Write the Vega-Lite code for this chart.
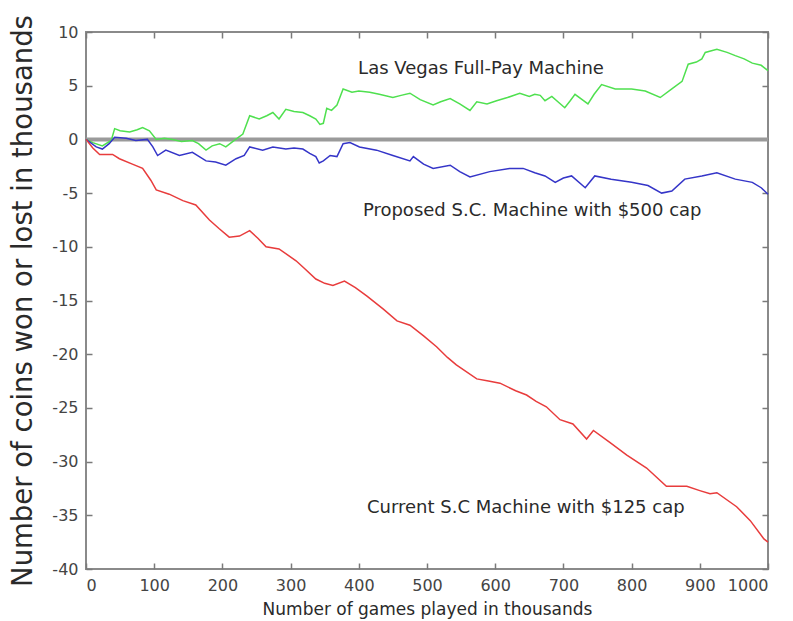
{
  "$schema": "https://vega.github.io/schema/vega-lite/v6.json",
  "width": 682,
  "height": 537,
  "autosize": {"type": "none"},
  "padding": {"left": 86, "top": 32, "right": 25, "bottom": 52},
  "background": "white",
  "config": {
    "view": {"stroke": "#8a8a8a", "strokeWidth": 2},
    "axis": {
      "grid": false,
      "domain": false,
      "tickColor": "#7a7a7a",
      "tickWidth": 1.5,
      "tickSize": 6,
      "offset": -6,
      "labelFont": "DejaVu Sans",
      "labelFontSize": 16,
      "labelColor": "#444444",
      "titleFont": "DejaVu Sans",
      "titleColor": "#2a2a2a",
      "titleFontWeight": "normal",
      "labelExpr": "'' + datum.value"
    }
  },
  "datasets": {
    "lines": [
      {"series": "Las Vegas", "x": 0, "y": 0},
      {"series": "Las Vegas", "x": 10, "y": -0.3},
      {"series": "Las Vegas", "x": 24, "y": -0.6},
      {"series": "Las Vegas", "x": 37, "y": -0.1},
      {"series": "Las Vegas", "x": 42, "y": 1.0},
      {"series": "Las Vegas", "x": 50, "y": 0.8},
      {"series": "Las Vegas", "x": 64, "y": 0.7},
      {"series": "Las Vegas", "x": 75, "y": 0.9},
      {"series": "Las Vegas", "x": 83, "y": 1.1},
      {"series": "Las Vegas", "x": 93, "y": 0.8},
      {"series": "Las Vegas", "x": 103, "y": 0.0},
      {"series": "Las Vegas", "x": 115, "y": 0.1},
      {"series": "Las Vegas", "x": 127, "y": 0.0},
      {"series": "Las Vegas", "x": 140, "y": -0.2},
      {"series": "Las Vegas", "x": 156, "y": -0.1},
      {"series": "Las Vegas", "x": 165, "y": -0.4},
      {"series": "Las Vegas", "x": 176, "y": -1.0},
      {"series": "Las Vegas", "x": 185, "y": -0.6},
      {"series": "Las Vegas", "x": 196, "y": -0.4},
      {"series": "Las Vegas", "x": 205, "y": -0.7},
      {"series": "Las Vegas", "x": 215, "y": -0.2},
      {"series": "Las Vegas", "x": 230, "y": 0.5},
      {"series": "Las Vegas", "x": 240, "y": 2.2},
      {"series": "Las Vegas", "x": 254, "y": 1.9},
      {"series": "Las Vegas", "x": 265, "y": 2.2},
      {"series": "Las Vegas", "x": 274, "y": 2.5},
      {"series": "Las Vegas", "x": 283, "y": 1.9},
      {"series": "Las Vegas", "x": 293, "y": 2.8},
      {"series": "Las Vegas", "x": 305, "y": 2.6},
      {"series": "Las Vegas", "x": 318, "y": 2.5},
      {"series": "Las Vegas", "x": 328, "y": 2.2},
      {"series": "Las Vegas", "x": 337, "y": 1.9},
      {"series": "Las Vegas", "x": 343, "y": 1.4},
      {"series": "Las Vegas", "x": 348, "y": 1.5},
      {"series": "Las Vegas", "x": 353, "y": 2.9},
      {"series": "Las Vegas", "x": 360, "y": 2.7},
      {"series": "Las Vegas", "x": 368, "y": 3.2},
      {"series": "Las Vegas", "x": 377, "y": 4.7},
      {"series": "Las Vegas", "x": 390, "y": 4.4},
      {"series": "Las Vegas", "x": 400, "y": 4.5},
      {"series": "Las Vegas", "x": 416, "y": 4.4},
      {"series": "Las Vegas", "x": 430, "y": 4.2},
      {"series": "Las Vegas", "x": 450, "y": 3.9},
      {"series": "Las Vegas", "x": 462, "y": 4.1},
      {"series": "Las Vegas", "x": 475, "y": 4.3},
      {"series": "Las Vegas", "x": 490, "y": 3.7},
      {"series": "Las Vegas", "x": 509, "y": 3.2},
      {"series": "Las Vegas", "x": 520, "y": 3.5},
      {"series": "Las Vegas", "x": 534, "y": 3.8},
      {"series": "Las Vegas", "x": 548, "y": 3.3},
      {"series": "Las Vegas", "x": 563, "y": 2.7},
      {"series": "Las Vegas", "x": 573, "y": 3.5},
      {"series": "Las Vegas", "x": 588, "y": 3.3},
      {"series": "Las Vegas", "x": 602, "y": 3.6},
      {"series": "Las Vegas", "x": 618, "y": 3.9},
      {"series": "Las Vegas", "x": 636, "y": 4.3},
      {"series": "Las Vegas", "x": 650, "y": 4.0},
      {"series": "Las Vegas", "x": 658, "y": 4.2},
      {"series": "Las Vegas", "x": 666, "y": 4.1},
      {"series": "Las Vegas", "x": 673, "y": 3.6},
      {"series": "Las Vegas", "x": 683, "y": 4.0},
      {"series": "Las Vegas", "x": 702, "y": 2.95},
      {"series": "Las Vegas", "x": 710, "y": 3.6},
      {"series": "Las Vegas", "x": 717, "y": 4.2},
      {"series": "Las Vegas", "x": 736, "y": 3.3},
      {"series": "Las Vegas", "x": 745, "y": 4.2},
      {"series": "Las Vegas", "x": 756, "y": 5.1},
      {"series": "Las Vegas", "x": 776, "y": 4.7},
      {"series": "Las Vegas", "x": 800, "y": 4.7},
      {"series": "Las Vegas", "x": 820, "y": 4.5},
      {"series": "Las Vegas", "x": 842, "y": 3.9},
      {"series": "Las Vegas", "x": 859, "y": 4.7},
      {"series": "Las Vegas", "x": 874, "y": 5.4},
      {"series": "Las Vegas", "x": 883, "y": 7.0},
      {"series": "Las Vegas", "x": 895, "y": 7.2},
      {"series": "Las Vegas", "x": 903, "y": 7.5},
      {"series": "Las Vegas", "x": 908, "y": 8.1},
      {"series": "Las Vegas", "x": 925, "y": 8.4},
      {"series": "Las Vegas", "x": 940, "y": 8.1},
      {"series": "Las Vegas", "x": 952, "y": 7.8},
      {"series": "Las Vegas", "x": 965, "y": 7.5},
      {"series": "Las Vegas", "x": 977, "y": 7.1},
      {"series": "Las Vegas", "x": 990, "y": 6.9},
      {"series": "Las Vegas", "x": 1000, "y": 6.4},
      {"series": "Proposed", "x": 0, "y": 0},
      {"series": "Proposed", "x": 15, "y": -0.7},
      {"series": "Proposed", "x": 24, "y": -0.9},
      {"series": "Proposed", "x": 34, "y": -0.4},
      {"series": "Proposed", "x": 42, "y": 0.2},
      {"series": "Proposed", "x": 59, "y": 0.1},
      {"series": "Proposed", "x": 73, "y": -0.1},
      {"series": "Proposed", "x": 90, "y": 0.0},
      {"series": "Proposed", "x": 98, "y": -0.7},
      {"series": "Proposed", "x": 105, "y": -1.5},
      {"series": "Proposed", "x": 117, "y": -1.0},
      {"series": "Proposed", "x": 137, "y": -1.5},
      {"series": "Proposed", "x": 156, "y": -1.2},
      {"series": "Proposed", "x": 176, "y": -2.0},
      {"series": "Proposed", "x": 190, "y": -2.1},
      {"series": "Proposed", "x": 205, "y": -2.4},
      {"series": "Proposed", "x": 220, "y": -1.8},
      {"series": "Proposed", "x": 232, "y": -1.5},
      {"series": "Proposed", "x": 240, "y": -0.7},
      {"series": "Proposed", "x": 259, "y": -1.0},
      {"series": "Proposed", "x": 274, "y": -0.7},
      {"series": "Proposed", "x": 293, "y": -0.9},
      {"series": "Proposed", "x": 305, "y": -0.8},
      {"series": "Proposed", "x": 318, "y": -0.9},
      {"series": "Proposed", "x": 328, "y": -1.3},
      {"series": "Proposed", "x": 337, "y": -1.6},
      {"series": "Proposed", "x": 342, "y": -2.2},
      {"series": "Proposed", "x": 348, "y": -2.0},
      {"series": "Proposed", "x": 358, "y": -1.5},
      {"series": "Proposed", "x": 368, "y": -1.6},
      {"series": "Proposed", "x": 377, "y": -0.4},
      {"series": "Proposed", "x": 387, "y": -0.3},
      {"series": "Proposed", "x": 401, "y": -0.7},
      {"series": "Proposed", "x": 426, "y": -1.0},
      {"series": "Proposed", "x": 450, "y": -1.5},
      {"series": "Proposed", "x": 475, "y": -2.0},
      {"series": "Proposed", "x": 480, "y": -1.6},
      {"series": "Proposed", "x": 495, "y": -2.3},
      {"series": "Proposed", "x": 509, "y": -2.7},
      {"series": "Proposed", "x": 534, "y": -2.4},
      {"series": "Proposed", "x": 548, "y": -3.0},
      {"series": "Proposed", "x": 563, "y": -3.5},
      {"series": "Proposed", "x": 592, "y": -3.0},
      {"series": "Proposed", "x": 621, "y": -2.7},
      {"series": "Proposed", "x": 641, "y": -2.7},
      {"series": "Proposed", "x": 658, "y": -3.1},
      {"series": "Proposed", "x": 673, "y": -3.4},
      {"series": "Proposed", "x": 688, "y": -4.0},
      {"series": "Proposed", "x": 700, "y": -3.6},
      {"series": "Proposed", "x": 712, "y": -3.4},
      {"series": "Proposed", "x": 732, "y": -4.5},
      {"series": "Proposed", "x": 746, "y": -3.4},
      {"series": "Proposed", "x": 770, "y": -3.7},
      {"series": "Proposed", "x": 800, "y": -4.0},
      {"series": "Proposed", "x": 824, "y": -4.3},
      {"series": "Proposed", "x": 844, "y": -5.0},
      {"series": "Proposed", "x": 859, "y": -4.8},
      {"series": "Proposed", "x": 878, "y": -3.7},
      {"series": "Proposed", "x": 903, "y": -3.4},
      {"series": "Proposed", "x": 925, "y": -3.1},
      {"series": "Proposed", "x": 952, "y": -3.7},
      {"series": "Proposed", "x": 977, "y": -4.0},
      {"series": "Proposed", "x": 990, "y": -4.5},
      {"series": "Proposed", "x": 1000, "y": -5.1},
      {"series": "Current", "x": 0, "y": 0},
      {"series": "Current", "x": 10, "y": -0.8},
      {"series": "Current", "x": 20, "y": -1.4},
      {"series": "Current", "x": 39, "y": -1.4},
      {"series": "Current", "x": 49, "y": -1.8},
      {"series": "Current", "x": 68, "y": -2.3},
      {"series": "Current", "x": 83, "y": -2.7},
      {"series": "Current", "x": 95, "y": -3.8},
      {"series": "Current", "x": 103, "y": -4.7},
      {"series": "Current", "x": 122, "y": -5.1},
      {"series": "Current", "x": 142, "y": -5.7},
      {"series": "Current", "x": 161, "y": -6.1},
      {"series": "Current", "x": 181, "y": -7.5},
      {"series": "Current", "x": 195, "y": -8.3},
      {"series": "Current", "x": 210, "y": -9.1},
      {"series": "Current", "x": 225, "y": -9.0},
      {"series": "Current", "x": 240, "y": -8.5},
      {"series": "Current", "x": 252, "y": -9.2},
      {"series": "Current", "x": 264, "y": -10.0},
      {"series": "Current", "x": 283, "y": -10.2},
      {"series": "Current", "x": 308, "y": -11.3},
      {"series": "Current", "x": 320, "y": -12.0},
      {"series": "Current", "x": 337, "y": -13.0},
      {"series": "Current", "x": 350, "y": -13.4},
      {"series": "Current", "x": 362, "y": -13.6},
      {"series": "Current", "x": 379, "y": -13.2},
      {"series": "Current", "x": 395, "y": -13.8},
      {"series": "Current", "x": 412, "y": -14.6},
      {"series": "Current", "x": 436, "y": -15.8},
      {"series": "Current", "x": 456, "y": -16.9},
      {"series": "Current", "x": 475, "y": -17.3},
      {"series": "Current", "x": 495, "y": -18.3},
      {"series": "Current", "x": 514, "y": -19.3},
      {"series": "Current", "x": 530, "y": -20.3},
      {"series": "Current", "x": 543, "y": -21.0},
      {"series": "Current", "x": 573, "y": -22.3},
      {"series": "Current", "x": 590, "y": -22.5},
      {"series": "Current", "x": 607, "y": -22.7},
      {"series": "Current", "x": 630, "y": -23.4},
      {"series": "Current", "x": 646, "y": -23.8},
      {"series": "Current", "x": 660, "y": -24.4},
      {"series": "Current", "x": 675, "y": -24.9},
      {"series": "Current", "x": 695, "y": -26.1},
      {"series": "Current", "x": 714, "y": -26.5},
      {"series": "Current", "x": 734, "y": -27.9},
      {"series": "Current", "x": 744, "y": -27.1},
      {"series": "Current", "x": 768, "y": -28.2},
      {"series": "Current", "x": 793, "y": -29.4},
      {"series": "Current", "x": 822, "y": -30.6},
      {"series": "Current", "x": 851, "y": -32.3},
      {"series": "Current", "x": 881, "y": -32.3},
      {"series": "Current", "x": 900, "y": -32.7},
      {"series": "Current", "x": 915, "y": -33.0},
      {"series": "Current", "x": 925, "y": -32.9},
      {"series": "Current", "x": 954, "y": -34.2},
      {"series": "Current", "x": 974, "y": -35.5},
      {"series": "Current", "x": 994, "y": -37.2},
      {"series": "Current", "x": 1000, "y": -37.5}
    ],
    "labels": [
      {"x": 399, "y": 6.6, "label": "Las Vegas Full-Pay Machine"},
      {"x": 406, "y": -6.7, "label": "Proposed S.C. Machine with $500 cap"},
      {"x": 412, "y": -34.3, "label": "Current S.C Machine with $125 cap"}
    ]
  },
  "layer": [
    {
      "data": {"values": [{"zero": 0}]},
      "mark": {"type": "rule", "color": "#9a9a9a", "strokeWidth": 4},
      "encoding": {
        "y": {"field": "zero", "type": "quantitative", "axis": null}
      }
    },
    {
      "data": {"name": "lines"},
      "mark": {"type": "line", "strokeWidth": 1.5, "interpolate": "linear"},
      "encoding": {
        "x": {
          "field": "x", "type": "quantitative",
          "scale": {"domain": [0, 1000], "nice": false},
          "axis": {
            "values": [0, 100, 200, 300, 400, 500, 600, 700, 800, 900, 1000],
            "labelPadding": 8,
            "title": "Number of games played in thousands",
            "titleFontSize": 17,
            "titlePadding": 8
          }
        },
        "y": {
          "field": "y", "type": "quantitative",
          "scale": {"domain": [-40, 10], "nice": false, "zero": false},
          "axis": {
            "values": [-40, -35, -30, -25, -20, -15, -10, -5, 0, 5, 10],
            "labelPadding": 8,
            "title": "Number of coins won or lost in thousands",
            "titleFontSize": 27.5,
            "titlePadding": 14
          }
        },
        "color": {
          "field": "series", "type": "nominal",
          "scale": {"domain": ["Las Vegas", "Proposed", "Current"], "range": ["#4fe04f", "#3535c8", "#e83c3c"]},
          "legend": null
        },
        "detail": {"field": "series"}
      }
    },
    {
      "data": {"name": "labels"},
      "mark": {"type": "text", "align": "left", "baseline": "middle", "font": "DejaVu Sans", "fontSize": 18, "color": "#2a2a2a"},
      "encoding": {
        "x": {"field": "x", "type": "quantitative", "axis": {"orient": "top", "labels": false, "title": null, "values": [0, 100, 200, 300, 400, 500, 600, 700, 800, 900, 1000]}},
        "y": {"field": "y", "type": "quantitative", "axis": {"orient": "right", "labels": false, "title": null, "values": [-40, -35, -30, -25, -20, -15, -10, -5, 0, 5, 10]}},
        "text": {"field": "label"}
      }
    }
  ],
  "resolve": {"axis": {"x": "independent", "y": "independent"}}
}
